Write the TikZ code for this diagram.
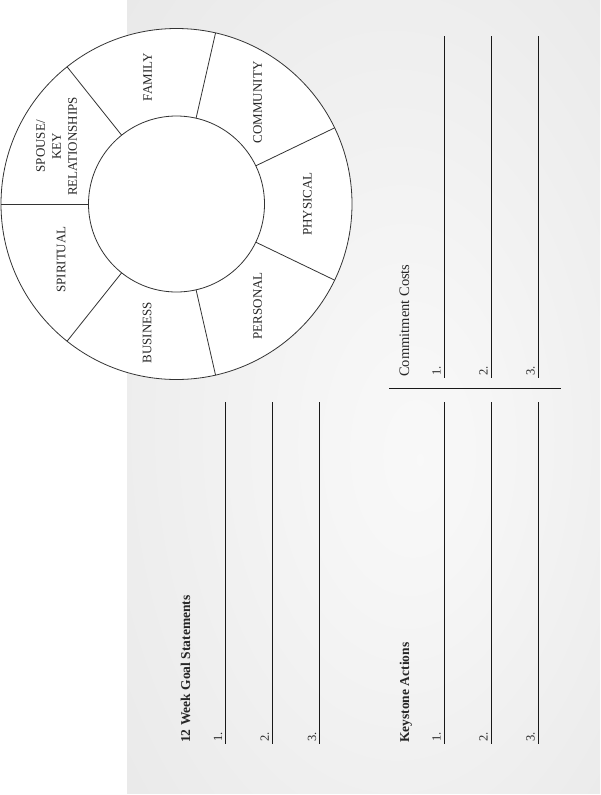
\documentclass[tikz,border=0pt]{standalone}
\usepackage{fontspec}
\setmainfont{Liberation Serif}
\usetikzlibrary{calc}

% soft glow for the page panel: light in the middle, grey towards the edges
\pgfdeclareradialshading{pageglow}{\pgfpoint{6bp}{-4bp}}{%
  rgb(0bp)=(0.975,0.975,0.975);
  rgb(8bp)=(0.965,0.965,0.965);
  rgb(50bp)=(0.892,0.892,0.892)}

\begin{document}
\begin{tikzpicture}[x=1pt,y=-1pt,
  rule/.style={line width=0.9pt, black!90},
  wheelline/.style={line width=0.8pt, black!80},
  seglabel/.style={rotate=90, align=center, inner sep=0pt,
    font=\fontsize{13}{16}\selectfont, text=black!85},
  heading/.style={rotate=90, anchor=base west, inner sep=0pt,
    font=\fontsize{13.5}{16}\selectfont\bfseries, text=black!85},
  subheading/.style={rotate=90, anchor=base west, inner sep=0pt,
    font=\fontsize{14.5}{16}\selectfont, text=black!85},
  numlabel/.style={rotate=90, anchor=base west, inner sep=0pt,
    font=\fontsize{12.5}{15}\selectfont, text=black!85}]

\useasboundingbox (0,0) rectangle (600,795);
\fill[white] (0,0) rectangle (600,795);
\shade[shading=pageglow] (127,0) rectangle (600,793);

% ---- life-area wheel ----
\coordinate (hub) at (176.5,204);
\draw[wheelline, fill=white] (hub) circle[radius=175.5pt];
\draw[wheelline, fill=white] (hub) circle[radius=88pt];

\foreach \i/\a in {1/180, 2/128.571, 3/77.143, 4/25.714, 5/-25.714, 6/-77.143, 7/-128.571} {
  \coordinate (spokein\i) at ($(hub)+(\a:88pt)$);
  \coordinate (spokeout\i) at ($(hub)+(\a:175.5pt)$);
  \draw[wheelline] (spokein\i) -- (spokeout\i);
}

\node[seglabel] (spouse)    at ($(hub)+(154.29:133pt)$) {SPOUSE/\\KEY\\RELATIONSHIPS};
\node[seglabel] (family)    at ($(hub)+(102.86:130pt)$) {FAMILY};
\node[seglabel] (community) at ($(hub)+(51.43:130pt)$)  {COMMUNITY};
\node[seglabel] (physical)  at ($(hub)+(0:131pt)$)      {PHYSICAL};
\node[seglabel] (personal)  at ($(hub)+(-51.43:130pt)$) {PERSONAL};
\node[seglabel] (business)  at ($(hub)+(-102.86:132pt)$) {BUSINESS};
\node[seglabel] (spiritual) at ($(hub)+(-154.29:128pt)$) {SPIRITUAL};

% ---- 12 week goal statements ----
\node[heading] (goalhead) at (190,743) {12 Week Goal Statements};
\foreach \i/\x in {1/225.7, 2/272.3, 3/319.7} {
  \coordinate (goaltop\i) at (\x,402);
  \coordinate (goalend\i) at (\x,744);
  \draw[rule] (goaltop\i) -- (goalend\i);
  \node[numlabel] (goalnum\i) at (\x-3.5,742) {\i.};
}

% ---- keystone actions ----
\node[heading] (keyhead) at (409,743) {Keystone Actions};
\foreach \i/\x in {1/444, 2/491, 3/538} {
  \coordinate (keytop\i) at (\x,402);
  \coordinate (keyend\i) at (\x,744);
  \draw[rule] (keytop\i) -- (keyend\i);
  \node[numlabel] (keynum\i) at (\x-3.5,742) {\i.};
}

% ---- separator ----
\coordinate (sepleft) at (389,388);
\coordinate (sepright) at (561,388);
\draw[rule] (sepleft) -- (sepright);

% ---- commitment costs ----
\node[subheading] (costhead) at (409,377) {Commitment Costs};
\foreach \i/\x in {1/444, 2/491, 3/538} {
  \coordinate (costtop\i) at (\x,36);
  \coordinate (costend\i) at (\x,378);
  \draw[rule] (costtop\i) -- (costend\i);
  \node[numlabel] (costnum\i) at (\x-3.5,376) {\i.};
}
\end{tikzpicture}
\end{document}
